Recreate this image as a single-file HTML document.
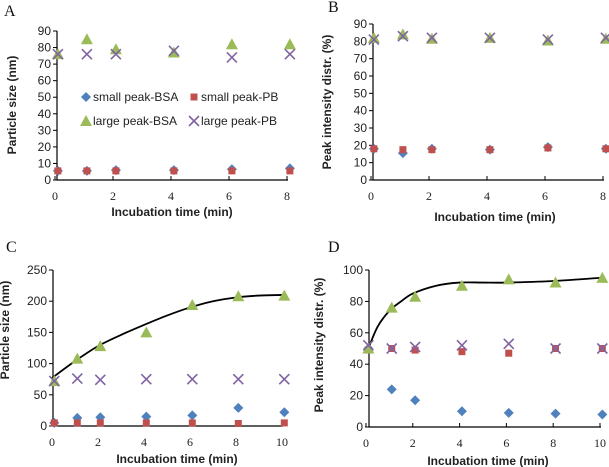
<!DOCTYPE html>
<html><head><meta charset="utf-8"><style>
body{margin:0;background:#fff}
svg{display:block;font-family:"Liberation Sans",Arial,sans-serif}
.tk{font-size:12px;fill:#222}
.tt{font-size:12px;font-weight:bold;fill:#222}
.pl{font-family:"Liberation Serif",serif;font-size:16px;fill:#111}
.lg{font-size:12px;fill:#222}
</style></head><body>
<svg id="c" width="609" height="467" viewBox="0 0 609 467" xmlns="http://www.w3.org/2000/svg"></svg>
<script>
const tAB=[0.1,1.1,2.1,4.1,6.1,8.1];
const tCD=[0.1,1.1,2.1,4.1,6.1,8.1,10.1];
const A_smallBSA=[5.5,5.5,6,6,6.5,7];
const A_smallPB=[5.5,5.5,5.5,5.5,5.5,5.5];
const A_largeBSA=[76,85,79,77,82,82];
const A_largePB=[76,76,76,78,74,76];
const B_smallBSA=[18,15.5,18,17.5,19,18];
const B_smallPB=[18,17.5,17.5,17.5,18.5,18];
const B_largeBSA=[82,84,81.5,82,80.5,81.5];
const B_largePB=[81,83,82,82,81,82];
const C_smallBSA=[5,13,14,15,17,29,22];
const C_smallPB=[5,5,5,5,5,4,5];
const C_largeBSA=[72,108,128,150,194,208,209];
const C_largePB=[72,76,74,75,75,75,75];
const C_fitT=[0,1,2,3,4,5,6,7,8,9,10];
const C_fitV=[77,104,128,146,162,177,190,200,206,209,210];
const D_smallBSA=[50,24,17,10,9,8.5,8];
const D_smallPB=[49,50,49,48,47,50,50];
const D_largeBSA=[50,76,83,90,94,92,95];
const D_largePB=[52,50,51,52,53,50,50];
const D_fitT=[0.1,0.5,1,1.5,2,3,4,5,6,8,10];
const D_fitV=[50,64,74,80,85,90,92,92,92,93,95];
const ticksA=[0,10,20,30,40,50,60,70,80,90];
const ticksC=[0,50,100,150,200,250];
const ticksD=[0,20,40,60,80,100];
const xt8=[0,2,4,6,8], xt10=[0,2,4,6,8,10];

const svg=document.getElementById('c');
const NS='http://www.w3.org/2000/svg';
function el(tag,a,parent){const e=document.createElementNS(NS,tag);for(const k in a)e.setAttribute(k,a[k]);(parent||svg).appendChild(e);return e;}
function marker(g,type,x,y){
  let e;
  if(type==='d'){e=el('polygon',{points:`${x},${y-5} ${x+5},${y} ${x},${y+5} ${x-5},${y}`,fill:'#4F81BD'},g);}
  else if(type==='s'){e=el('rect',{x:x-3.5,y:y-3.5,width:7,height:7,fill:'#C0504D'},g);}
  else if(type==='t'){e=el('polygon',{points:`${x},${y-6} ${x+6},${y+5} ${x-6},${y+5}`,fill:'#9BBB59'},g);}
  else {e=el('path',{d:`M${x-5},${y-5}L${x+5},${y+5}M${x+5},${y-5}L${x-5},${y+5}`,stroke:'#8064A2','stroke-width':1.6,fill:'none'},g);}
  return e;
}
function panel(p){
  const g=el('g',{});
  
  
  const X=t=>p.x0+(t/p.xmax)*(p.x1-p.x0);
  const Y=v=>p.y0-(v/p.ymax)*(p.y0-p.y1);
  const lab=el('text',{x:p.lx,y:p.ly,class:'pl'},g);lab.textContent=p.id;
  
  const ax=el('path',{d:`M${p.ax},${Y(p.ymax)}L${p.ax},${p.y0}L${X(p.xmax)+1},${p.y0}`,stroke:'#000','stroke-width':1.2,fill:'none'},g);
  
  p.yt.forEach(v=>{
    el('line',{x1:p.ax-4,x2:p.ax,y1:Y(v),y2:Y(v),stroke:'#000'},g);
    const t=el('text',{x:p.ax-6,y:Y(v)+4,class:'tk','text-anchor':'end'},g);t.textContent=v;
    
  });
  p.xt.forEach(v=>{
    el('line',{x1:X(v),x2:X(v),y1:p.y0-4,y2:p.y0,stroke:'#000'},g);
    const t=el('text',{x:X(v),y:p.y0+20,class:'tk','text-anchor':'middle','font-family':'Liberation Serif'},g);t.textContent=v;
    
  });
  const xt=el('text',{x:p.xtx,y:p.xty,class:'tt','text-anchor':'middle'},g);xt.textContent='Incubation time (min)';
  
  const yt=el('text',{x:0,y:0,class:'tt','text-anchor':'middle',transform:`translate(${p.ytx},${p.yty}) rotate(-90)`},g);yt.textContent=p.ytitle;
  
  if(p.fitT){
    let pts=p.fitT.map((t,i)=>[X(t),Y(p.fitV[i])]);
    let d=`M${pts[0][0]},${pts[0][1]}`;
    for(let i=0;i<pts.length-1;i++){
      const p0=pts[Math.max(0,i-1)],p1=pts[i],p2=pts[i+1],p3=pts[Math.min(pts.length-1,i+2)];
      d+=`C${p1[0]+(p2[0]-p0[0])/6},${p1[1]+(p2[1]-p0[1])/6} ${p2[0]-(p3[0]-p1[0])/6},${p2[1]-(p3[1]-p1[1])/6} ${p2[0]},${p2[1]}`;
    }
    const f=el('path',{d:d,stroke:'#000','stroke-width':1.8,fill:'none'},g);
    
  }
  const ser=[['d',p.s1,'small-peak-bsa'],['s',p.s2,'small-peak-pb'],['t',p.s3,'large-peak-bsa'],['x',p.s4,'large-peak-pb']];
  ser.forEach(([ty,vals,nm])=>{
    vals.forEach((v,i)=>{
      const m=marker(g,ty,X(p.t[i]),Y(v));
      
      
    });
  });
}
panel({id:'A',lx:4,ly:16,x0:55,x1:287,ax:57,xmax:8,y0:180,y1:31,ymax:90,yt:ticksA,xt:xt8,t:tAB,
  s1:A_smallBSA,s2:A_smallPB,s3:A_largeBSA,s4:A_largePB,xtx:172,xty:216,ytx:16,yty:105,ytitle:'Particle size (nm)'});
panel({id:'B',lx:328,ly:12,x0:371,x1:603,ax:373,xmax:8,y0:180,y1:24,ymax:90,yt:ticksA,xt:xt8,t:tAB,
  s1:B_smallBSA,s2:B_smallPB,s3:B_largeBSA,s4:B_largePB,xtx:495,xty:221,ytx:331,yty:102,ytitle:'Peak intensity distr. (%)'});
panel({id:'C',lx:6,ly:252,x0:52,x1:282,ax:53,xmax:10,y0:426,y1:270,ymax:250,yt:ticksC,xt:xt10,t:tCD,
  s1:C_smallBSA,s2:C_smallPB,s3:C_largeBSA,s4:C_largePB,fitT:C_fitT,fitV:C_fitV,xtx:177,xty:463,ytx:9,yty:330,ytitle:'Particle size (nm)'});
panel({id:'D',lx:328,ly:252,x0:366,x1:600,ax:369,xmax:10,y0:427,y1:270,ymax:100,yt:ticksD,xt:xt10,t:tCD,
  s1:D_smallBSA,s2:D_smallPB,s3:D_largeBSA,s4:D_largePB,fitT:D_fitT,fitV:D_fitV,xtx:488,xty:465,ytx:323,yty:345,ytitle:'Peak intensity distr. (%)'});
const lg=el('g',{});


const leg=[['d',86,97,'small peak-BSA'],['s',194,97,'small peak-PB'],['t',86,121,'large peak-BSA'],['x',194,121,'large peak-PB']];
leg.forEach(([ty,x,y,txt])=>{
  const m=marker(lg,ty,x,y);
  
  
  const t=el('text',{x:x+7,y:y+4,class:'lg'},lg);t.textContent=txt;
  
  
});
</script>
</body></html>
